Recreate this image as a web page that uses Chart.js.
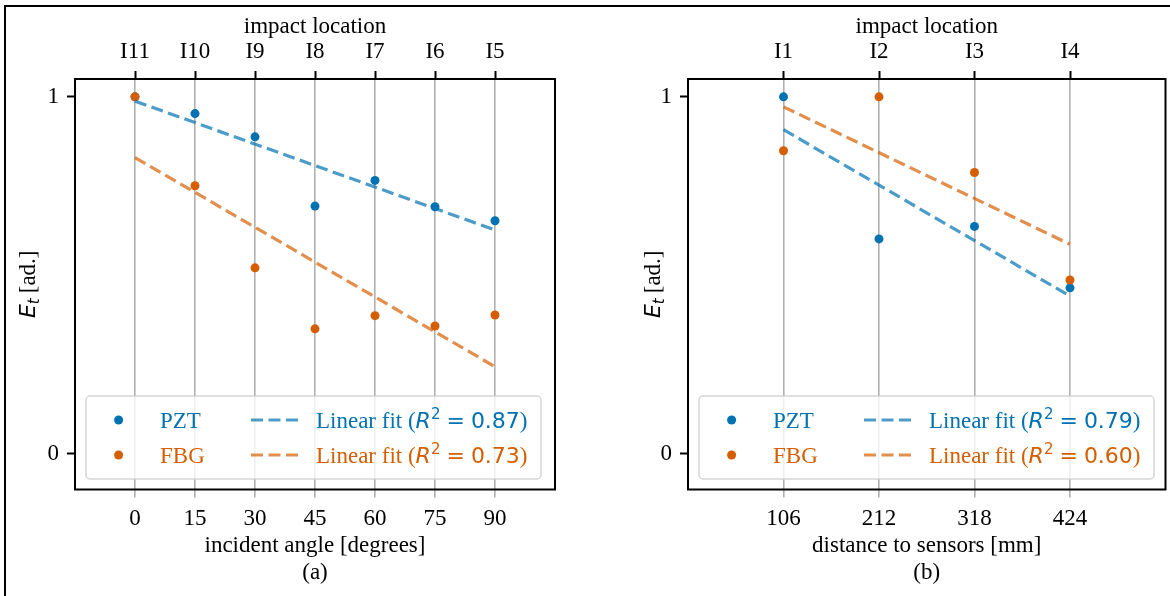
<!DOCTYPE html>
<html>
<head>
<meta charset="utf-8">
<script src="https://cdn.jsdelivr.net/npm/chart.js@4.4.0/dist/chart.umd.min.js"></script>
<style>
  body { margin: 0; background: #fff; }
  #wrap { position: relative; width: 1170px; height: 596px; overflow: hidden; }
  #frame { position: absolute; left: 4px; top: 5px; right: -10px; bottom: -10px; border-left: 2px solid #000; border-top: 2px solid #000; }
  .box { position: absolute; top: 0; width: 585px; height: 596px; }
</style>
</head>
<body>
<div id="wrap">
  <div id="frame"></div>
  <div class="box" style="left:0"><canvas id="chartA"></canvas></div>
  <div class="box" style="left:585px"><canvas id="chartB"></canvas></div>
</div>
<script>
// (a) incident angle
const anglesA = [0, 15, 30, 45, 60, 75, 90];
const locationsA = ['I11', 'I10', 'I9', 'I8', 'I7', 'I6', 'I5'];
const pztA = [1.0, 0.953, 0.888, 0.694, 0.766, 0.692, 0.653];
const fbgA = [1.0, 0.751, 0.521, 0.350, 0.387, 0.358, 0.389];
const fitXA = [0, 90];
const pztFitA = [0.988, 0.627];
const fbgFitA = [0.830, 0.244];
const r2A = [0.87, 0.73];

// (b) distance to sensors
const distB = [106, 212, 318, 424];
const locationsB = ['I1', 'I2', 'I3', 'I4'];
const pztB = [1.0, 0.602, 0.637, 0.465];
const fbgB = [0.849, 1.0, 0.788, 0.487];
const fitXB = [106, 424];
const pztFitB = [0.908, 0.442];
const fbgFitB = [0.972, 0.587];
const r2B = [0.79, 0.60];

const yTicks = [0, 1];
const seriesNames = ['PZT', 'FBG'];

const blue = '#0072B2';
const orange = '#D55E00';
const blueFit = 'rgba(0,114,178,0.7)';
const orangeFit = 'rgba(213,94,0,0.7)';
const serif = '"Liberation Serif", "Times New Roman", serif';
const sans = '"DejaVu Sans", sans-serif';
const fs = 23;

let toPoints = (xs, ys) => xs.map((x, i) => ({x: x, y: ys[i]}));

// draw a list of text pieces one after another
let drawRuns = (ctx, runs, x, y) => {
    runs.forEach(r => {
        ctx.font = r.font;
        ctx.fillText(r.text, x, y + (r.dy || 0));
        x += ctx.measureText(r.text).width + (r.gap || 0);
    });
    return x;
};
let runsWidth = (ctx, runs) => {
    let w = 0;
    runs.forEach(r => {
        ctx.font = r.font;
        w += ctx.measureText(r.text).width + (r.gap || 0);
    });
    return w;
};

let fitRuns = (r2) => [
    {text: 'Linear fit (', font: fs + 'px ' + serif},
    {text: 'R', font: 'italic 22px ' + sans},
    {text: '2', font: '15px ' + sans, dy: -9, gap: 6},
    {text: '=', font: '22px ' + sans, gap: 6},
    {text: r2.toFixed(2), font: '22px ' + sans},
    {text: ')', font: fs + 'px ' + serif}
];

// box round the axes
const spines = {
    id: 'spines',
    afterDraw(chart) {
        const {ctx, chartArea} = chart;
        ctx.save();
        ctx.strokeStyle = '#000';
        ctx.lineWidth = 2;
        ctx.strokeRect(chartArea.left, chartArea.top, chartArea.right - chartArea.left, chartArea.bottom - chartArea.top);
        ctx.restore();
    }
};

// legend inside the axes, 2 columns
const boxLegend = {
    id: 'boxLegend',
    afterDatasetsDraw(chart) {
        const {ctx, chartArea} = chart;
        const left = chartArea.left + 11;
        const bottom = chartArea.bottom - 10.5;
        const top = bottom - 83;
        ctx.save();
        ctx.beginPath();
        ctx.roundRect(left, top, 455, bottom - top, 4);
        ctx.fillStyle = 'rgba(255,255,255,0.8)';
        ctx.fill();
        ctx.strokeStyle = 'rgba(204,204,204,0.8)';
        ctx.lineWidth = 1.5;
        ctx.stroke();

        const ds = chart.data.datasets;
        const rows = [top + 24, top + 59];
        ds.filter(d => d.kind == 'pts').forEach(d => {
            const y = rows[d.row];
            ctx.fillStyle = d.backgroundColor;
            ctx.beginPath();
            ctx.arc(left + 32.6, y, 4.5, 0, Math.PI * 2);
            ctx.fill();
            ctx.font = fs + 'px ' + serif;
            ctx.textBaseline = 'alphabetic';
            ctx.fillText(d.label, left + 74, y + 7.5);
        });
        ds.filter(d => d.kind == 'fit').forEach(d => {
            const y = rows[d.row];
            ctx.strokeStyle = d.borderColor;
            ctx.lineWidth = 3.2;
            ctx.setLineDash([12, 5.5]);
            ctx.beginPath();
            ctx.moveTo(left + 165, y);
            ctx.lineTo(left + 212, y);
            ctx.stroke();
            ctx.setLineDash([]);
            ctx.fillStyle = d.textColor;
            ctx.textBaseline = 'alphabetic';
            drawRuns(ctx, fitRuns(d.r2), left + 230, y + 7.5);
        });
        ctx.restore();
    }
};

// E_t [ad.] with mixed fonts
const yTitle = {
    id: 'yTitle',
    afterDraw(chart) {
        const {ctx, chartArea} = chart;
        const off = chart.options.plugins.yTitle.offset;
        const runs = [
            {text: 'E', font: 'italic 22px ' + sans},
            {text: 't', font: 'italic 15px ' + sans, dy: 4, gap: 5},
            {text: '[ad.]', font: fs + 'px ' + serif}
        ];
        ctx.save();
        ctx.translate(chartArea.left - off, (chartArea.top + chartArea.bottom) / 2);
        ctx.rotate(-Math.PI / 2);
        ctx.fillStyle = '#000';
        ctx.textBaseline = 'alphabetic';
        const w = runsWidth(ctx, runs);
        drawRuns(ctx, runs, -w / 2, 8);
        ctx.restore();
    }
};

let makeChart = (id, o) => {
    const tickFont = {family: serif, size: fs};
    return new Chart(document.getElementById(id), {
        type: 'scatter',
        data: {
            datasets: [
                {label: 'Linear fit', kind: 'fit', row: 0, r2: o.r2[0], textColor: blue, data: toPoints(o.fitX, o.pztFit),
                 showLine: true, borderColor: blueFit, borderWidth: 3.2, borderDash: [12, 5.5], pointRadius: 0, order: 0},
                {label: 'Linear fit', kind: 'fit', row: 1, r2: o.r2[1], textColor: orange, data: toPoints(o.fitX, o.fbgFit),
                 showLine: true, borderColor: orangeFit, borderWidth: 3.2, borderDash: [12, 5.5], pointRadius: 0, order: 0},
                {label: seriesNames[1], kind: 'pts', row: 1, data: toPoints(o.xs, o.fbg),
                 backgroundColor: orange, borderWidth: 0, pointRadius: 4.5, order: 1},
                {label: seriesNames[0], kind: 'pts', row: 0, data: toPoints(o.xs, o.pzt),
                 backgroundColor: blue, borderWidth: 0, pointRadius: 4.5, order: 2}
            ]
        },
        options: {
            responsive: true,
            maintainAspectRatio: false,
            devicePixelRatio: 1,
            animation: false,
            layout: {padding: {left: 0, right: o.padRight, top: 0, bottom: 0}},
            plugins: {
                legend: {display: false},
                tooltip: {enabled: false},
                yTitle: {offset: o.yTitleOffset}
            },
            scales: {
                x: {
                    type: 'linear', position: 'bottom', min: o.xMin, max: o.xMax,
                    afterBuildTicks: s => { s.ticks = o.xs.map(v => ({value: v})); },
                    afterFit: s => { s.height = 106.5; },
                    grid: {color: '#b0b0b0', lineWidth: 1.6, tickColor: '#b0b0b0', tickLength: 8, tickWidth: 1.6},
                    border: {display: false},
                    ticks: {color: '#000', font: tickFont, padding: 8, maxRotation: 0, autoSkip: false, callback: v => String(v)},
                    title: {display: true, text: [o.xTitle, o.panel], color: '#000',
                            font: {family: serif, size: fs, lineHeight: 1.18}, padding: {top: 0, bottom: 9}}
                },
                xTop: {
                    type: 'linear', axis: 'x', position: 'top', min: o.xMin, max: o.xMax,
                    afterBuildTicks: s => { s.ticks = o.xs.map(v => ({value: v})); },
                    afterFit: s => { s.height = 79; },
                    grid: {drawOnChartArea: false, tickColor: '#000', tickLength: 8, tickWidth: 2},
                    border: {display: false},
                    ticks: {color: '#000', font: tickFont, padding: 5, maxRotation: 0, autoSkip: false,
                            callback: v => o.locations[o.xs.indexOf(v)]},
                    title: {display: true, text: 'impact location', color: '#000',
                            font: {family: serif, size: fs, lineHeight: 1.18}, padding: {top: 13, bottom: 0}}
                },
                y: {
                    type: 'linear', position: 'left', min: -0.1, max: 1.05,
                    afterBuildTicks: s => { s.ticks = yTicks.map(v => ({value: v})); },
                    afterFit: s => { s.width = o.yWidth; },
                    grid: {drawOnChartArea: false, tickColor: '#000', tickLength: 8, tickWidth: 2},
                    border: {display: false},
                    ticks: {color: '#000', font: tickFont, padding: 8, callback: v => String(v)}
                }
            }
        },
        plugins: [boxLegend, spines, yTitle]
    });
};

makeChart('chartA', {
    xs: anglesA, locations: locationsA, pzt: pztA, fbg: fbgA,
    fitX: fitXA, pztFit: pztFitA, fbgFit: fbgFitA, r2: r2A,
    xMin: -15, xMax: 105, xTitle: 'incident angle [degrees]', panel: '(a)',
    yWidth: 75, padRight: 30, yTitleOffset: 48
});

makeChart('chartB', {
    xs: distB, locations: locationsB, pzt: pztB, fbg: fbgB,
    fitX: fitXB, pztFit: pztFitB, fbgFit: fbgFitB, r2: r2B,
    xMin: 0, xMax: 530, xTitle: 'distance to sensors [mm]', panel: '(b)',
    yWidth: 103, padRight: 3, yTitleOffset: 36
});
</script>
</body>
</html>
